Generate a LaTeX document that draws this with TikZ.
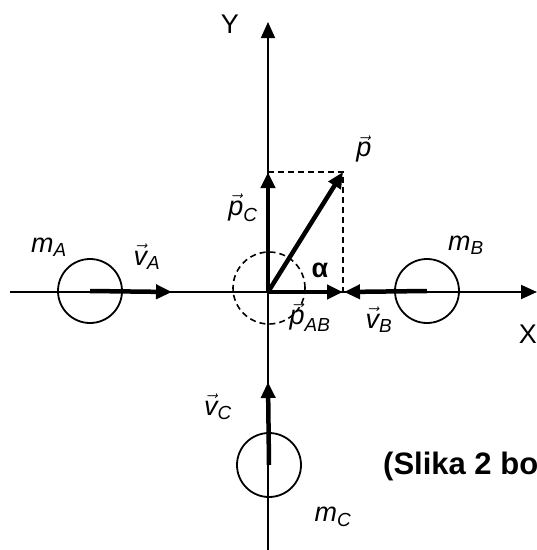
\documentclass[tikz,border=0pt]{standalone}
\usepackage{fontspec}
\setmainfont{Liberation Sans}
\usepackage{amsmath}
\usetikzlibrary{arrows.meta}
\newcommand{\vlab}[2]{$\vec{\textit{#1}}_{\textit{#2}}$}
\newcommand{\mlab}[2]{$\textit{#1}_{\textit{#2}}$}
\begin{document}
\begin{tikzpicture}[x=1pt,y=-1pt,
  axis/.style={line width=1.8pt,-{Triangle[length=16pt,width=14pt]}},
  vecarr/.style={line width=4.5pt,-{Triangle[length=16pt,width=14pt]}},
  ball/.style={circle,draw,line width=1.8pt,minimum size=64pt,inner sep=0pt},
  lbl/.style={font=\fontsize{27}{31}\selectfont,inner sep=0pt},
  guide/.style={line width=1.6pt,dash pattern=on 6pt off 4pt}]
\useasboundingbox (0,0) rectangle (537,550);
\coordinate (O) at (268,292);
\coordinate (xl) at (10,292);
\coordinate (xr) at (537,292);
\coordinate (yb) at (268,550);
\coordinate (yt) at (268,22);
\draw[axis] (xl) -- (xr);
\draw[axis] (yb) -- (yt);
\node[ball] (A) at (90,291) {};
\node[ball] (B) at (427,291) {};
\node[ball] (C) at (269,465) {};
\node[circle,draw,line width=1.6pt,dash pattern=on 6pt off 4pt,minimum size=72pt,inner sep=0pt] (dc) at (269,288) {};
\coordinate (va) at (172,292);
\coordinate (vb) at (344,292);
\coordinate (vc) at (268,382);
\coordinate (pc) at (268,172);
\coordinate (p) at (343,172);
\coordinate (pab) at (343,292);
\draw[vecarr] (A.center) -- (va);
\draw[vecarr] (B.center) -- (vb);
\draw[vecarr] (C.center) -- (vc);
\draw[guide] (pc) -- (p) -- (pab);
\draw[vecarr] (O) -- (pc);
\draw[vecarr] (O) -- (p);
\draw[vecarr] (O) -- (pab);
\node[lbl] (ly) at (230,24) {Y};
\node[lbl,anchor=east] (lx) at (537,334) {X};
\node[lbl] (lma) at (49,247) {\mlab{m}{A}};
\node[lbl] (lva) at (147,257) {\vlab{v}{A}};
\node[lbl] (lmb) at (466,245) {\mlab{m}{B}};
\node[lbl] (lvb) at (379,320) {\vlab{v}{B}};
\node[lbl] (lpc) at (243,208) {\vlab{p}{C}};
\node[lbl] (lp) at (364,149) {$\vec{\textit{p}}$};
\node[lbl] (lal) at (320,270) {\textbf{α}};
\node[lbl] (lpab) at (310,317) {\vlab{p}{AB}};
\node[lbl] (lvc) at (218,407) {\vlab{v}{C}};
\node[lbl] (lmc) at (333,517) {\mlab{m}{C}};
\node[lbl,anchor=west,font=\fontsize{31}{35}\selectfont\bfseries] (cap) at (383,466) {(Slika 2 bo};
\end{tikzpicture}
\end{document}
